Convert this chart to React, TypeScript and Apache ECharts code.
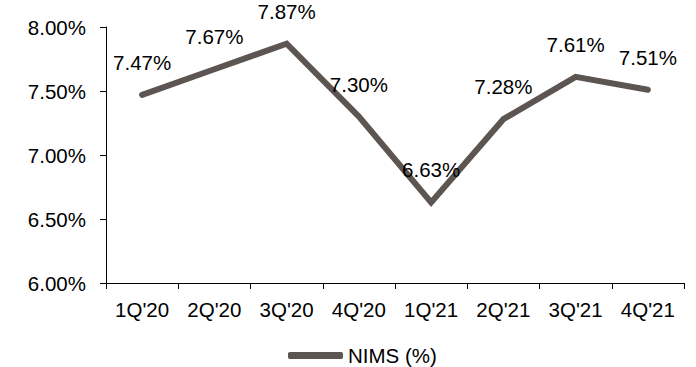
import React, { useEffect, useRef } from "react";
import * as echarts from "echarts";

const categories = ["1Q'20", "2Q'20", "3Q'20", "4Q'20", "1Q'21", "2Q'21", "3Q'21", "4Q'21"];
const nims = [7.47, 7.67, 7.87, 7.3, 6.63, 7.28, 7.61, 7.51];
const seriesName = "NIMS (%)";

export default function App() {
  const ref = useRef<HTMLDivElement>(null);
  useEffect(() => {
    const chart = echarts.init(ref.current!, undefined, { renderer: "svg" });
    const font = "'Liberation Sans', Arial, sans-serif";
    const fs = 20.5;
    const lineColor = "#5d5551";
    chart.setOption({
      animation: false,
      textStyle: { fontFamily: font },
      grid: { left: 106, right: 12, top: 27, bottom: 84, containLabel: false },
      legend: {
        top: 345,
        left: 288,
        padding: 0,
        data: [{ name: seriesName, icon: "roundRect" }],
        itemWidth: 55,
        itemHeight: 7,
        textStyle: { fontSize: fs, color: "#000", fontFamily: font },
      },
      xAxis: {
        type: "category",
        data: categories,
        axisLine: { lineStyle: { color: "#000", width: 1 } },
        axisTick: { show: true, length: 6, lineStyle: { color: "#000" } },
        axisLabel: { fontSize: fs, color: "#000", margin: 16, fontFamily: font },
      },
      yAxis: {
        type: "value",
        min: 6,
        max: 8,
        interval: 0.5,
        axisLine: { show: true, lineStyle: { color: "#000", width: 1 } },
        axisTick: { show: true, length: 6, lineStyle: { color: "#000" } },
        splitLine: { show: false },
        axisLabel: {
          fontSize: fs,
          color: "#000",
          margin: 20,
          fontFamily: font,
          formatter: (v: number) => v.toFixed(2) + "%",
        },
      },
      series: [
        {
          name: seriesName,
          type: "line",
          data: nims,
          symbol: "circle",
          symbolSize: 2,
          showSymbol: true,
          lineStyle: { color: lineColor, width: 6, cap: "round", join: "miter" },
          itemStyle: { color: lineColor },
          label: {
            show: true,
            position: "top",
            distance: 21,
            fontSize: fs,
            color: "#000",
            fontFamily: font,
            formatter: (p: any) => Number(p.value).toFixed(2) + "%",
          },
        },
      ],
    });
    return () => chart.dispose();
  }, []);
  return (
    <div
      ref={ref}
      style={{ position: "absolute", left: 0, top: 0, width: 696, height: 367 }}
    />
  );
}
